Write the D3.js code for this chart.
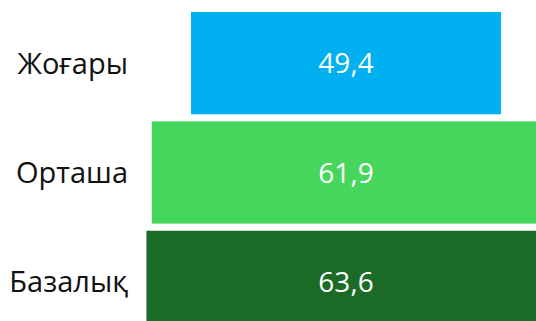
<!DOCTYPE html>
<html><head><meta charset="utf-8">
<script src="https://cdn.jsdelivr.net/npm/d3@7"></script>
<style>html,body{margin:0;padding:0;background:#fff;overflow:hidden}</style>
</head><body>
<svg id="c" width="536" height="321"></svg>
<script>
const categories = ["Жоғары", "Орташа", "Базалық"];
const values = [49.4, 61.9, 63.6];
const colors = ["#00B0F0", "#47D65C", "#1B6B26"];

const svg = d3.select("#c");
const cx = 346;
const x = d3.scaleLinear().domain([0, 49.4]).range([0, 310]);
const y = d3.scaleBand().domain(categories).range([12, 333]).paddingInner(0.065).paddingOuter(0);

const g = svg.selectAll("g.bar").data(categories).enter().append("g");
g.append("rect")
  .attr("x", (d,i) => cx - x(values[i]) / 2)
  .attr("y", d => y(d))
  .attr("width", (d,i) => x(values[i]))
  .attr("height", y.bandwidth())
  .attr("fill", (d,i) => colors[i]);
g.append("text")
  .attr("x", cx)
  .attr("y", d => y(d) + y.bandwidth() / 2)
  .attr("dy", "0.36em")
  .attr("text-anchor", "middle")
  .attr("fill", "#fff")
  .style("font-family", "'Open Sans', 'Noto Sans', sans-serif")
  .style("font-size", "28px")
  .style("font-weight", 400)
  .text((d,i) => String(values[i]).replace(".", ","));
g.append("text")
  .attr("x", 128)
  .attr("y", d => y(d) + y.bandwidth() / 2)
  .attr("dy", "0.36em")
  .attr("text-anchor", "end")
  .attr("fill", "#111")
  .style("font-family", "'Open Sans', 'Noto Sans', sans-serif")
  .style("font-size", "29px")
  .text(d => d);
</script>
</body></html>
